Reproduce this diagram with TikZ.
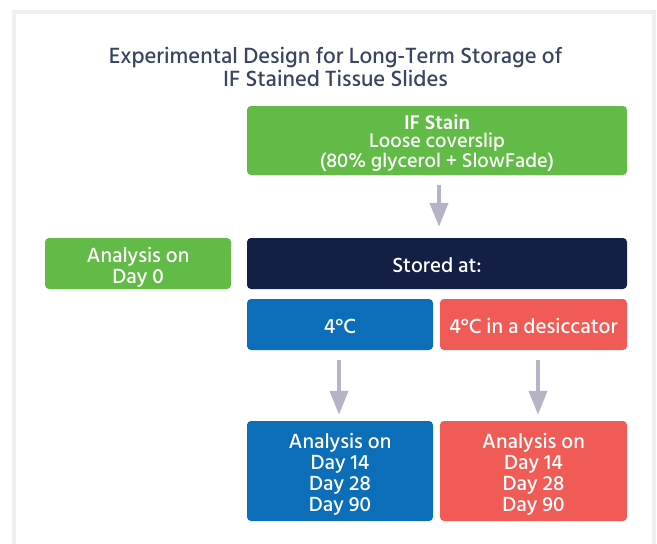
\documentclass[tikz,border=0pt]{standalone}
\usepackage{fontspec}
\setmainfont{Hind Siliguri}[UprightFont=* Medium, BoldFont=* SemiBold]
\usetikzlibrary{arrows.meta}
\definecolor{cgreen}{HTML}{62BB46}
\definecolor{cnavy}{HTML}{131F44}
\definecolor{cblue}{HTML}{0C6EB8}
\definecolor{cred}{HTML}{F15B55}
\definecolor{carrow}{HTML}{B4B4C6}
\definecolor{ctitle}{HTML}{3A4562}
\definecolor{cframe}{HTML}{EFF0F3}
\tikzset{
  x=1pt,y=-1pt,
  box/.style={rounded corners=4pt, text=white, align=center, inner sep=0pt,
    font=\fontsize{21}{21}\selectfont},
  oneline/.style={text height=17pt, text depth=0pt},
  twoline/.style={text height=41pt, text depth=2pt},
  fourline/.style={text height=84pt, text depth=4pt},
  flowarrow/.style={draw=carrow, line width=4pt, -{Triangle[width=18pt,length=24pt]}},
}
\begin{document}
\begin{tikzpicture}
\useasboundingbox (0,0) rectangle (657,544);
\fill[white] (0,0) rectangle (657,544);
\draw[cframe, line width=4pt] (14,600) -- (14,11.5) -- (654,11.5) -- (654,600);
\node[text=ctitle, align=center, inner sep=0pt, text height=40pt, text depth=8pt,
  font=\fontsize{22.6}{23}\selectfont] (title) at (335.5,70)
  {Experimental Design for Long-Term Storage of\\IF Stained Tissue Slides};
\node[box, fill=cgreen, minimum width=380pt, minimum height=69pt,
  text height=57pt, text depth=4pt,
  font=\fontsize{20.3}{18}\selectfont] (ifstain) at (437,140.5)
  {\textbf{IF Stain}\\Loose coverslip\\(80\% glycerol + SlowFade)};
\node[box, oneline, fill=cnavy, minimum width=380pt, minimum height=51pt] (stored) at (437,263.5) {Stored at:};
\node[box, twoline, fill=cgreen, minimum width=186pt, minimum height=51pt] (day0) at (138,263.5) {Analysis on\\Day 0};
\node[box, oneline, fill=cblue, minimum width=186pt, minimum height=51pt] (cold) at (340,324.5) {4°C};
\node[box, oneline, fill=cred, minimum width=187pt, minimum height=51pt] (desic) at (533.5,324.5) {4°C in a desiccator};
\node[box, fourline, fill=cblue, minimum width=186pt, minimum height=100pt] (anblue) at (340,471) {Analysis on\\Day 14\\Day 28\\Day 90};
\node[box, fourline, fill=cred, minimum width=187pt, minimum height=100pt] (anred) at (533.5,471) {Analysis on\\Day 14\\Day 28\\Day 90};
\draw[flowarrow] ([xshift=2pt,yshift=-10pt]ifstain.south) -- ([xshift=2pt,yshift=11pt]stored.north);
\draw[flowarrow] ([xshift=-1pt,yshift=-10pt]cold.south) -- ([xshift=-1pt,yshift=6pt]anblue.north);
\draw[flowarrow] ([xshift=4.5pt,yshift=-10pt]desic.south) -- ([xshift=4.5pt,yshift=6pt]anred.north);
\end{tikzpicture}
\end{document}
